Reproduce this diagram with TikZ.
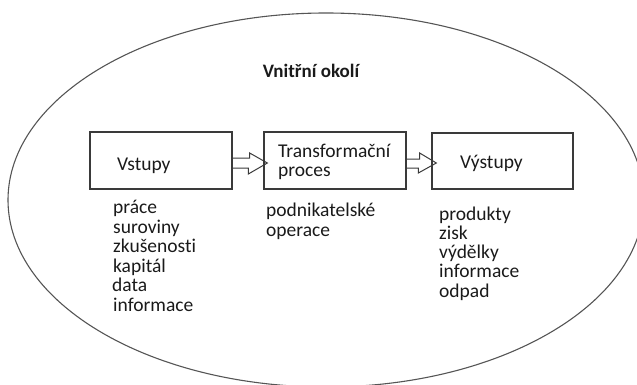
\documentclass[tikz,border=0pt]{standalone}
\usepackage{fontspec}
\setmainfont{Carlito}[Ligatures=NoCommon]
\usetikzlibrary{calc,shapes.geometric}
\definecolor{ink}{HTML}{1A1A1A}
\definecolor{edge}{HTML}{3A3A3A}
\definecolor{ring}{HTML}{555555}
\begin{document}
\begin{tikzpicture}[x=1pt,y=-1pt,
  txt/.style={font=\fontsize{19.5}{21}\selectfont, text=ink, inner sep=0pt, anchor=base west},
  boxnode/.style={draw=edge, line width=1.3pt, inner sep=0pt},
  blockarrow/.style={draw=edge, line width=1pt, line join=miter}]
\useasboundingbox (0,0) rectangle (637,385);
\begin{scope}
  \clip (0,0) rectangle (637,385);
  \node[ellipse, draw=ring, line width=1.1pt, minimum width=636pt, minimum height=374pt, inner sep=0pt] (env) at (326,200) {};
\end{scope}
\node[txt, font=\fontsize{19}{21}\selectfont\bfseries, anchor=base] (title) at (311,78) {Vnitřní okolí};
% boxes
\node[boxnode, minimum width=142pt, minimum height=57pt] (b1) at (161,160.5) {};
\node[boxnode, minimum width=142pt, minimum height=57pt] (b2) at (335,160.5) {};
\node[boxnode, minimum width=141pt, minimum height=56pt] (b3) at (502.5,161) {};
% box texts
\node[txt] (t1) at (117,170) {Vstupy};
\node[txt] (t2a) at (278,157.5) {Transformační};
\node[txt] (t2b) at (278,176) {proces};
\node[txt] (t3) at (460,168.5) {Výstupy};
% block arrows
\draw[blockarrow] ($(b1.east)+(0,-2.5)$) -- ++(17,0) -- ++(0,-5) -- ($(b2.west)+(4,2.5)$) -- ++(-19,11) -- ++(0,-6) -- ++(-17,0);
\draw[blockarrow] ($(b2.east)+(0,-1.5)$) -- ++(13,0) -- ++(0,-6) -- ($(b3.west)+(5,2)$) -- ++(-18,10) -- ++(0,-5) -- ++(-13,0);
% lists
\node[txt] (l1) at (113,213.5) {práce};
\node[txt] (l2) at (113,233.1) {suroviny};
\node[txt] (l3) at (113,252.7) {zkušenosti};
\node[txt] (l4) at (113,272.3) {kapitál};
\node[txt] (l5) at (112,291.9) {data};
\node[txt] (l6) at (113,311.5) {informace};
\node[txt] (m1) at (266,216.5) {podnikatelské};
\node[txt] (m2) at (266,236) {operace};
\node[txt] (r1) at (439,220) {produkty};
\node[txt] (r2) at (439,239.3) {zisk};
\node[txt] (r3) at (439,258.6) {výdělky};
\node[txt] (r4) at (439,277.9) {informace};
\node[txt] (r5) at (439,297.2) {odpad};
\end{tikzpicture}
\end{document}
